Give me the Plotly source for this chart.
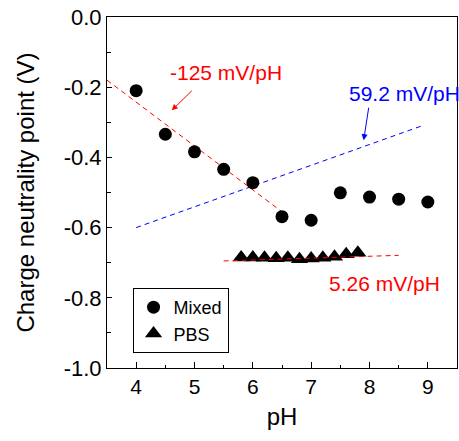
import plotly.graph_objects as go

# Data
mixed_ph = [4.0, 4.5, 5.0, 5.5, 6.0, 6.5, 7.0, 7.5, 8.0, 8.5, 9.0]
mixed_cnp = [-0.210, -0.334, -0.384, -0.434, -0.472, -0.569, -0.579, -0.501, -0.513, -0.519, -0.527]

pbs_ph = [5.8, 6.0, 6.2, 6.4, 6.6, 6.8, 7.0, 7.2, 7.4, 7.6, 7.8]
pbs_cnp = [-0.685, -0.685, -0.686, -0.687, -0.686, -0.690, -0.688, -0.686, -0.683, -0.676, -0.672]

fit_acid_x = [3.5, 6.5]
fit_acid_y = [-0.18, -0.555]
fit_base_x = [4.0, 8.9]
fit_base_y = [-0.60, -0.31]
fit_pbs_x = [5.5, 8.5]
fit_pbs_y = [-0.695, -0.679]

x_ticks = [4, 5, 6, 7, 8, 9]
y_ticks = [-1.0, -0.8, -0.6, -0.4, -0.2, 0.0]
y_ticklabels = ["-1.0", "-0.8", "-0.6", "-0.4", "-0.2", "0.0"]

FONT = "Arial, Liberation Sans, sans-serif"

fig = go.Figure()
fig.add_trace(go.Scatter(x=fit_acid_x, y=fit_acid_y, mode="lines",
                         line=dict(color="red", width=1, dash="5px,4px"), showlegend=False))
fig.add_trace(go.Scatter(x=fit_base_x, y=fit_base_y, mode="lines",
                         line=dict(color="blue", width=1, dash="5px,4px"), showlegend=False))
fig.add_trace(go.Scatter(x=mixed_ph, y=mixed_cnp, mode="markers", name="Mixed",
                         marker=dict(symbol="circle", size=13, color="black")))
fig.add_trace(go.Scatter(x=pbs_ph, y=pbs_cnp, mode="markers", name="PBS",
                         marker=dict(symbol="triangle-up", size=15, color="black")))
fig.add_trace(go.Scatter(x=fit_pbs_x, y=fit_pbs_y, mode="lines",
                         line=dict(color="red", width=1, dash="5px,4px"), showlegend=False))

annots = [
    dict(x=4.55, y=-0.159, text="-125 mV/pH", color="red", xanchor="left"),
    dict(x=7.62, y=-0.218, text="59.2 mV/pH", color="blue", xanchor="left"),
    dict(x=7.27, y=-0.759, text="5.26 mV/pH", color="red", xanchor="left"),
]
for a in annots:
    fig.add_annotation(x=a["x"], y=a["y"], xref="x", yref="y", text=a["text"],
                       showarrow=False, xanchor=a["xanchor"], yanchor="middle",
                       font=dict(family=FONT, size=21, color=a["color"]))

arrows = [
    dict(x=4.61, y=-0.266, ax=4.98, ay=-0.206, color="red"),
    dict(x=7.90, y=-0.351, ax=7.99, ay=-0.254, color="blue"),
]
for a in arrows:
    fig.add_annotation(x=a["x"], y=a["y"], ax=a["ax"], ay=a["ay"], xref="x", yref="y",
                       axref="x", ayref="y", text="", showarrow=True,
                       arrowhead=2, arrowsize=1.2, arrowwidth=1, arrowcolor=a["color"])

fig.update_layout(
    width=459, height=441,
    margin=dict(l=107, r=2, t=17, b=73),
    paper_bgcolor="white", plot_bgcolor="white",
    font=dict(family=FONT, size=21, color="black"),
    legend=dict(x=0.073, y=0.228, xanchor="left", yanchor="top",
                bordercolor="black", borderwidth=1, bgcolor="white",
                font=dict(family=FONT, size=18), tracegroupgap=0, itemwidth=30),
    showlegend=True,
)
fig.update_xaxes(range=[3.5, 9.5], tickvals=x_ticks,
                 ticks="inside", ticklen=6, tickcolor="black",
                 minor=dict(dtick=0.5, tick0=3.5, ticks="inside", ticklen=3, tickcolor="black"),
                 showline=True, linecolor="black", linewidth=1, mirror=True,
                 showgrid=False, zeroline=False,
                 title=dict(text="pH", font=dict(size=24), standoff=10),
                 tickfont=dict(size=21))
fig.update_yaxes(range=[-1.0, 0.0], tickvals=y_ticks, ticktext=y_ticklabels,
                 ticks="inside", ticklen=5, tickcolor="black",
                 minor=dict(dtick=0.1, tick0=0, ticks="inside", ticklen=4, tickcolor="black"),
                 showline=True, linecolor="black", linewidth=1, mirror=True,
                 showgrid=False, zeroline=False,
                 title=dict(text="Charge neutrality point (V)", font=dict(size=24), standoff=22),
                 tickfont=dict(size=22))

fig.write_html("out.html")
